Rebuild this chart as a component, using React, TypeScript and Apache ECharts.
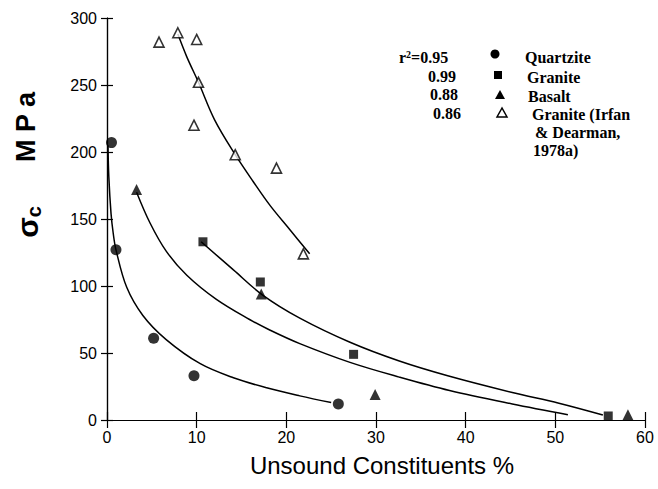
import React, { useEffect, useRef } from "react";
import * as echarts from "echarts";

// Measured specimens: unsound constituents (%) vs uniaxial compressive strength (MPa)
const quartziteX = [0.5, 1.0, 5.2, 9.7, 25.8];
const quartziteY = [207, 127, 61, 33, 12];
const graniteX = [10.7, 17.1, 27.5, 55.9];
const graniteY = [133, 103, 49, 3];
const basaltX = [3.3, 17.2, 29.9, 58.1];
const basaltY = [172, 94, 19, 4];
const irfanX = [5.8, 7.9, 10.0, 10.2, 9.7, 14.3, 18.9, 21.9];
const irfanY = [282, 289, 284, 252, 220, 198, 188, 124];

// Regression curves, sampled along each fitted line
const quartziteFitX = [0.11, 0.2, 0.45, 0.7, 1.0, 2.2, 4.0, 6.6, 10.4, 14.1, 17.8, 21.5, 25.0];
const quartziteFitY = [205, 182, 154, 139, 127, 99, 78, 60, 42, 31.5, 24, 18, 13];
const graniteFitX = [10.5, 14.1, 17.4, 21.5, 27.1, 32.6, 38.0, 45.2, 50.4, 55.3];
const graniteFitY = [133, 112, 93, 76, 58, 44, 33, 20.5, 12.5, 3.7];
const basaltFitX = [3.3, 4.8, 6.6, 8.9, 12.2, 15.9, 18.2, 21.5, 27.1, 32.6, 38.2, 45.2, 51.4];
const basaltFitY = [170, 147, 126, 108, 90, 75, 67, 57, 43, 32, 22, 12, 4];
const irfanFitX = [7.9, 8.9, 10.2, 12.0, 14.3, 16.3, 18.2, 20.4, 22.6];
const irfanFitY = [288, 271, 252, 224, 198, 178, 160, 142, 124];

// Legend content
const rSquared = ["0.95", "0.99", "0.88", "0.86"];
const legendNames = ["Quartzite", "Granite", "Basalt", "Granite (Irfan", "& Dearman,", "1978a)"];

// Axis ticks
const xTicks = { min: 0, max: 60, interval: 10 };
const yTicks = { min: 0, max: 300, interval: 50 };

const zip = (xs: number[], ys: number[]) => xs.map((x, i) => [x, ys[i]]);

const serifBold = "bold 16px 'Liberation Serif', 'Times New Roman', serif";

export default function App() {
  const ref = useRef<HTMLDivElement>(null);

  useEffect(() => {
    if (!ref.current) return;
    const chart = echarts.init(ref.current, null, { renderer: "svg" });

    const axisFont = { fontFamily: "'Liberation Sans', Arial, sans-serif", fontSize: 16, color: "#000" };
    const frameLine = { show: true, lineStyle: { color: "#000", width: 1.2 } };

    const curve = (name: string, xs: number[], ys: number[]) => ({
      name,
      type: "line",
      data: zip(xs, ys),
      smooth: 0.35,
      showSymbol: false,
      silent: true,
      lineStyle: { color: "#000", width: 1.5 },
      z: 2,
    });

    const legendX = [495, 498, 500, 502];
    const legendY = [54, 75, 95, 113];

    const graphic: any[] = [
      // y-axis title
      {
        type: "text",
        x: 28,
        y: 222,
        rotation: Math.PI / 2,
        style: {
          text: "{s|σ}{c|c}",
          align: "center",
          verticalAlign: "middle",
          rich: {
            s: { font: "bold 30px 'Liberation Sans', Arial, sans-serif", fill: "#000", verticalAlign: "top" },
            c: { font: "bold 20px 'Liberation Sans', Arial, sans-serif", fill: "#000", verticalAlign: "bottom", padding: [12, 0, 0, 0] },
          },
        },
      },
      {
        type: "text",
        x: 26,
        y: 127,
        rotation: Math.PI / 2,
        style: {
          text: "M P a",
          font: "bold 27px 'Liberation Sans', Arial, sans-serif",
          fill: "#000",
          align: "center",
          verticalAlign: "middle",
        },
      },
      // r² column
      {
        type: "text",
        x: 399,
        y: 57,
        style: {
          text: "{a|r}{b|2}{a|=" + rSquared[0] + "}",
          verticalAlign: "middle",
          rich: {
            a: { font: serifBold, fill: "#000", verticalAlign: "bottom" },
            b: { font: "bold 10px 'Liberation Serif', serif", fill: "#000", verticalAlign: "top" },
          },
        },
      },
      { type: "text", x: 428, y: 76, style: { text: rSquared[1], font: serifBold, fill: "#000", verticalAlign: "middle" } },
      { type: "text", x: 430, y: 94, style: { text: rSquared[2], font: serifBold, fill: "#000", verticalAlign: "middle" } },
      { type: "text", x: 433, y: 113, style: { text: rSquared[3], font: serifBold, fill: "#000", verticalAlign: "middle" } },
      // legend markers
      { type: "circle", shape: { cx: legendX[0], cy: legendY[0], r: 4.5 }, style: { fill: "#000" } },
      { type: "rect", shape: { x: legendX[1] - 4, y: legendY[1] - 4, width: 8, height: 8 }, style: { fill: "#000" } },
      {
        type: "polygon",
        shape: { points: [[legendX[2], legendY[2] - 5], [legendX[2] - 5, legendY[2] + 4], [legendX[2] + 5, legendY[2] + 4]] },
        style: { fill: "#000" },
      },
      {
        type: "polygon",
        shape: { points: [[legendX[3], legendY[3] - 5], [legendX[3] - 5, legendY[3] + 4], [legendX[3] + 5, legendY[3] + 4]] },
        style: { fill: "#fff", stroke: "#000", lineWidth: 1.5 },
      },
      // legend names
      { type: "text", x: 525, y: 57, style: { text: legendNames[0], font: serifBold, fill: "#000", verticalAlign: "middle" } },
      { type: "text", x: 527, y: 77, style: { text: legendNames[1], font: serifBold, fill: "#000", verticalAlign: "middle" } },
      { type: "text", x: 528, y: 96, style: { text: legendNames[2], font: serifBold, fill: "#000", verticalAlign: "middle" } },
      { type: "text", x: 532, y: 114, style: { text: legendNames[3], font: serifBold, fill: "#000", verticalAlign: "middle" } },
      { type: "text", x: 535, y: 132, style: { text: legendNames[4], font: serifBold, fill: "#000", verticalAlign: "middle" } },
      { type: "text", x: 533, y: 150, style: { text: legendNames[5], font: serifBold, fill: "#000", verticalAlign: "middle" } },
    ];

    chart.setOption({
      animation: false,
      backgroundColor: "#fff",
      grid: { left: 107, right: 13, top: 18, bottom: 69, containLabel: false },
      xAxis: [
        {
          type: "value",
          ...xTicks,
          position: "bottom",
          name: "Unsound Constituents %",
          nameLocation: "middle",
          nameGap: 33,
          nameTextStyle: {
            fontFamily: "'Liberation Sans', Arial, sans-serif",
            fontSize: 24,
            color: "#000",
            padding: [0, 0, 0, 12],
          },
          axisLine: frameLine,
          axisTick: { show: true, inside: true, length: 8, lineStyle: { color: "#000", width: 1.2 } },
          axisLabel: { ...axisFont, margin: 9 },
          splitLine: { show: false },
        },
        {
          type: "value",
          ...xTicks,
          position: "top",
          axisLine: frameLine,
          axisTick: { show: true, inside: true, length: 8, lineStyle: { color: "#000", width: 1.2 } },
          axisLabel: { show: false },
          splitLine: { show: false },
        },
      ],
      yAxis: [
        {
          type: "value",
          ...yTicks,
          position: "left",
          axisLine: frameLine,
          axisTick: { show: true, inside: true, length: 6, lineStyle: { color: "#000", width: 1.2 } },
          axisLabel: { ...axisFont, margin: 10 },
          splitLine: { show: false },
        },
        {
          type: "value",
          ...yTicks,
          position: "right",
          axisLine: frameLine,
          axisTick: { show: true, inside: true, length: 6, lineStyle: { color: "#000", width: 1.2 } },
          axisLabel: { show: false },
          splitLine: { show: false },
        },
      ],
      series: [
        curve("Quartzite fit", quartziteFitX, quartziteFitY),
        curve("Granite fit", graniteFitX, graniteFitY),
        curve("Basalt fit", basaltFitX, basaltFitY),
        curve("Granite (Irfan & Dearman, 1978a) fit", irfanFitX, irfanFitY),
        {
          name: "Quartzite",
          type: "scatter",
          data: zip(quartziteX, quartziteY),
          symbol: "circle",
          symbolSize: 11,
          itemStyle: { color: "#000" },
          z: 3,
        },
        {
          name: "Granite",
          type: "scatter",
          data: zip(graniteX, graniteY),
          symbol: "rect",
          symbolSize: 9,
          itemStyle: { color: "#000" },
          z: 3,
        },
        {
          name: "Basalt",
          type: "scatter",
          data: zip(basaltX, basaltY),
          symbol: "triangle",
          symbolSize: 11,
          itemStyle: { color: "#000" },
          z: 3,
        },
        {
          name: "Granite (Irfan & Dearman, 1978a)",
          type: "scatter",
          data: zip(irfanX, irfanY),
          symbol: "triangle",
          symbolSize: 10,
          itemStyle: { color: "#fff", borderColor: "#000", borderWidth: 1.6 },
          z: 3,
        },
      ],
      graphic,
    });

    return () => chart.dispose();
  }, []);

  return <div ref={ref} style={{ width: 658, height: 489, position: "absolute", left: 0, top: 0 }} />;
}
